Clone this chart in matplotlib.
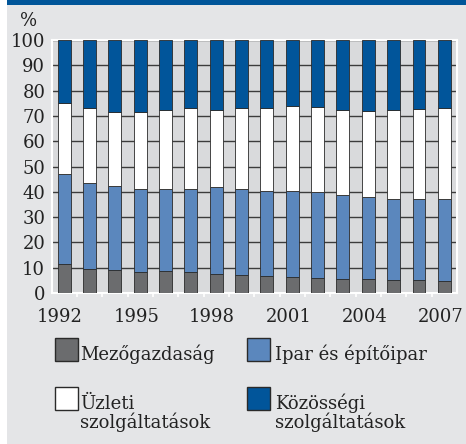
import matplotlib.pyplot as plt
import matplotlib.transforms as mtransforms
from matplotlib.patches import Rectangle
import numpy as np

plt.rcParams['font.family'] = ['DejaVu Serif']

years = list(range(1992, 2008))
labels = ['Mezőgazdaság', 'Ipar és építőipar', 'Üzleti\nszolgáltatások', 'Közösségi\nszolgáltatások']
agri = [11.3, 9.5, 9.1, 8.2, 8.6, 8.2, 7.5, 7.3, 6.6, 6.4, 6.1, 5.6, 5.4, 5.1, 5.0, 4.7]
industry = [35.7, 34.0, 33.2, 32.9, 32.7, 33.1, 34.2, 33.9, 33.6, 34.1, 34.0, 33.1, 32.5, 32.2, 32.0, 32.4]
business = [28.2, 29.8, 29.4, 30.4, 31.2, 32.0, 30.8, 31.8, 33.1, 33.4, 33.5, 33.7, 34.1, 35.2, 35.6, 35.9]
community = [24.8, 26.7, 28.3, 28.5, 27.5, 26.7, 27.5, 27.0, 26.7, 26.1, 26.4, 27.6, 28.0, 27.5, 27.4, 27.0]
colors = ['#6b6c6e', '#5b87bd', '#ffffff', '#01559a']

W, H = 466, 444
fig = plt.figure(figsize=(W / 100, H / 100), dpi=100)
fig.patch.set_facecolor('white')
# background panel and top band
fig.patches.append(Rectangle((7 / W, 0), 1 - 7 / W, 1 - 1 / H, transform=fig.transFigure,
                             facecolor='#e4e5e7', edgecolor='none', zorder=-10))
fig.patches.append(Rectangle((7 / W, 1 - 5 / H), 1 - 7 / W, 5 / H, transform=fig.transFigure,
                             facecolor='#005599', edgecolor='none', zorder=-9))

ax = fig.add_axes([51.5 / W, 151 / H, 405.5 / W, 253 / H])
ax.set_facecolor('#d9dadc')

x = np.arange(len(years))
bottom = np.zeros(len(years))
for vals, c in zip([agri, industry, business, community], colors):
    ax.bar(x, vals, 0.51, bottom=bottom, color=c, edgecolor='#2a2a2a', linewidth=0.6, zorder=3)
    bottom += np.array(vals)

ax.set_xlim(-0.5, len(years) - 0.5)
ax.set_ylim(0, 100)
ax.set_yticks(range(0, 101, 10))
ax.yaxis.grid(True, color='#3c3c3c', linewidth=1.0, zorder=1)
ax.set_axisbelow(True)

ax.set_xticks(x[::3])
ax.set_xticklabels([str(y) for y in years[::3]])
ax.set_xticks(x[:-1] + 0.5, minor=True)
ax.tick_params(axis='x', which='major', length=0, pad=10.5, labelsize=13, colors='#222222')
ax.tick_params(axis='x', which='minor', length=3, width=1.2, color='white', direction='out')
ax.tick_params(axis='y', length=0, pad=4.5, labelsize=13, colors='#222222')
off = mtransforms.ScaledTranslation(-4 / 100, 0, fig.dpi_scale_trans)
for lab in ax.get_xticklabels():
    lab.set_transform(lab.get_transform() + off)

for s in ax.spines.values():
    s.set_color('white')
    s.set_linewidth(1.5)

fig.text(28.5 / W, 1 - 20.5 / H, '%', ha='center', va='center', fontsize=13, color='#222222')

# legend drawn by hand (y of text = baseline of last line)
leg = [(55, 338, 80, 360), (247, 338, 275, 360), (55, 387, 80, 428), (247, 387, 275, 428)]
for (sx, sy, tx, ty), lab, c in zip(leg, labels, colors):
    fig.patches.append(Rectangle((sx / W, 1 - (sy + 23) / H), 23 / W, 23 / H,
                                 transform=fig.transFigure, facecolor=c,
                                 edgecolor='#2a2a2a', linewidth=1.0, zorder=2))
    fig.text(tx / W, 1 - ty / H, lab, ha='left', va='baseline', fontsize=13,
             color='#222222', linespacing=1.0)

fig.savefig('out.png', dpi=100)
